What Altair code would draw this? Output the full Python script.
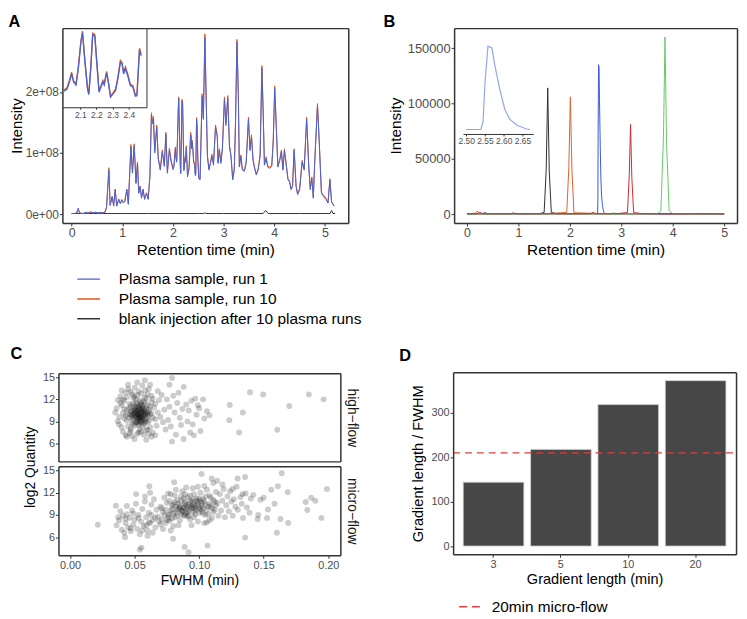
import altair as alt
import pandas as pd

W, H = 739, 611
FONT = "Liberation Sans"
INK = "#333333"
LAB = "#4D4D4D"

# ---------------- Panel A : TIC traces ----------------
a_series = ["Plasma sample, run 1", "Plasma sample, run 10", "blank injection after 10 plasma runs"]
a_colors = ["#4863D4", "#E2571F", "#333333"]
a_time = [
    0.00, 0.05, 0.10, 0.13, 0.16, 0.22, 0.28, 0.33, 0.38, 0.42,
    0.47, 0.52, 0.57, 0.62, 0.66, 0.69, 0.735, 0.76, 0.80, 0.83,
    0.86, 0.89, 0.93, 0.96, 0.99, 1.02, 1.05, 1.09, 1.12, 1.17,
    1.20, 1.235, 1.27, 1.30, 1.325, 1.35, 1.38, 1.41, 1.44, 1.48,
    1.51, 1.545, 1.575, 1.595, 1.615, 1.64, 1.68, 1.71, 1.75, 1.79,
    1.83, 1.86, 1.89, 1.93, 1.965, 2.00, 2.019, 2.033, 2.047, 2.059,
    2.074, 2.088, 2.104, 2.114, 2.129, 2.145, 2.153, 2.165, 2.177, 2.19,
    2.202, 2.216, 2.226, 2.24, 2.248, 2.263, 2.273, 2.287, 2.303, 2.318,
    2.332, 2.348, 2.358, 2.368, 2.379, 2.393, 2.409, 2.425, 2.44, 2.45,
    2.466, 2.476, 2.49, 2.51, 2.535, 2.575, 2.60, 2.63, 2.655, 2.68,
    2.71, 2.74, 2.77, 2.80, 2.84, 2.875, 2.89, 2.915, 2.945, 2.975,
    3.016, 3.045, 3.082, 3.115, 3.145, 3.179, 3.21, 3.235, 3.263, 3.29,
    3.31, 3.34, 3.37, 3.41, 3.445, 3.49, 3.52, 3.55, 3.58, 3.61,
    3.645, 3.68, 3.72, 3.755, 3.78, 3.805, 3.84, 3.87, 3.91, 3.95,
    3.98, 4.008, 4.04, 4.07, 4.11, 4.14, 4.17, 4.20, 4.24, 4.27,
    4.30, 4.33, 4.36, 4.391, 4.43, 4.46, 4.50, 4.55, 4.59, 4.638,
    4.68, 4.71, 4.74, 4.77, 4.80, 4.852, 4.88, 4.93, 4.97, 5.02,
    5.06, 5.097, 5.13, 5.18,
]
# intensities in units of 1e8
a_run1 = [
    0.01, 0.01, 0.02, 0.10, 0.02, 0.01, 0.03, 0.02, 0.04, 0.02,
    0.03, 0.02, 0.03, 0.02, 0.04, 0.12, 0.72, 0.14, 0.29, 0.13,
    0.40, 0.13, 0.24, 0.17, 0.24, 0.18, 0.21, 0.40, 0.16, 1.10,
    0.67, 1.12, 0.50, 0.83, 0.34, 0.45, 0.26, 0.40, 0.24, 0.34,
    0.24, 0.61, 1.62, 1.48, 1.55, 1.00, 1.42, 0.90, 0.72, 1.02,
    0.78, 1.31, 0.67, 1.05, 0.85, 0.73, 0.77, 0.91, 1.07, 0.91,
    0.85, 1.17, 1.69, 1.89, 1.30, 0.77, 0.66, 1.17, 1.85, 1.82,
    1.30, 0.71, 0.79, 0.91, 0.85, 1.09, 0.91, 0.61, 0.68, 0.74,
    0.97, 1.30, 1.27, 1.07, 1.18, 1.04, 0.84, 0.81, 0.63, 0.64,
    1.55, 1.43, 0.90, 0.58, 0.56, 1.93, 1.55, 2.90, 1.90, 0.94,
    0.72, 0.83, 0.95, 0.80, 1.42, 1.26, 0.83, 1.04, 0.83, 1.05,
    1.88, 1.45, 1.90, 1.10, 0.94, 0.56, 0.72, 1.50, 2.82, 1.94,
    0.77, 0.94, 0.72, 0.70, 0.83, 1.55, 1.04, 1.26, 0.88, 0.75,
    0.64, 0.72, 0.94, 2.39, 1.67, 0.80, 0.91, 0.77, 0.75, 0.78,
    1.20, 2.06, 1.40, 0.77, 0.88, 1.02, 0.72, 1.04, 0.77, 0.56,
    0.53, 0.40, 0.45, 1.04, 0.45, 0.32, 0.40, 0.85, 0.72, 1.55,
    0.77, 0.40, 0.59, 0.26, 0.88, 1.77, 1.30, 0.34, 0.29, 0.24,
    0.18, 0.56, 0.20, 0.13,
]
a_run10 = [
    0.01, 0.01, 0.02, 0.06, 0.02, 0.01, 0.02, 0.02, 0.03, 0.02,
    0.03, 0.02, 0.02, 0.02, 0.03, 0.11, 0.76, 0.15, 0.28, 0.14,
    0.41, 0.14, 0.25, 0.18, 0.23, 0.19, 0.22, 0.41, 0.17, 1.14,
    0.70, 1.15, 0.52, 0.85, 0.36, 0.46, 0.28, 0.41, 0.26, 0.35,
    0.25, 0.63, 1.66, 1.52, 1.60, 1.03, 1.46, 0.92, 0.74, 1.05,
    0.80, 1.34, 0.69, 1.08, 0.87, 0.75, 0.80, 0.94, 1.10, 0.93,
    0.88, 1.20, 1.72, 1.92, 1.34, 0.80, 0.69, 1.20, 1.88, 1.85,
    1.33, 0.74, 0.82, 0.94, 0.88, 1.12, 0.94, 0.63, 0.70, 0.77,
    1.00, 1.34, 1.30, 1.10, 1.21, 1.07, 0.87, 0.84, 0.66, 0.66,
    1.58, 1.47, 0.93, 0.60, 0.58, 1.97, 1.58, 2.95, 1.94, 0.97,
    0.74, 0.85, 0.98, 0.82, 1.46, 1.29, 0.85, 1.07, 0.86, 1.08,
    1.92, 1.49, 1.94, 1.13, 0.97, 0.58, 0.74, 1.54, 2.86, 1.98,
    0.79, 0.97, 0.74, 0.72, 0.86, 1.59, 1.07, 1.30, 0.90, 0.77,
    0.66, 0.74, 0.97, 2.43, 1.71, 0.82, 0.94, 0.79, 0.77, 0.80,
    1.24, 2.10, 1.44, 0.79, 0.91, 1.05, 0.74, 1.07, 0.79, 0.58,
    0.55, 0.42, 0.47, 1.07, 0.47, 0.34, 0.42, 0.88, 0.74, 1.59,
    0.79, 0.42, 0.61, 0.28, 0.91, 1.81, 1.33, 0.36, 0.31, 0.26,
    0.19, 0.58, 0.21, 0.14,
]
a_blank_time = [0.00, 0.30, 0.70, 1.00, 1.50, 2.00, 2.50, 2.60, 2.63, 2.66, 3.00,
                3.50, 3.78, 3.83, 3.88, 4.50, 5.00, 5.10, 5.13, 5.16, 5.20]
a_blank = [0.01, 0.01, 0.01, 0.01, 0.01, 0.01, 0.01, 0.01, 0.02, 0.01, 0.01,
           0.01, 0.01, 0.06, 0.01, 0.01, 0.01, 0.01, 0.06, 0.01, 0.01]
a_y_ticks = [0, 1, 2]
a_x_ticks = [0, 1, 2, 3, 4, 5]
a_inset_ticks = [2.1, 2.2, 2.3, 2.4]

# ---------------- Panel B : XICs ----------------
b_names = ["peptide 1", "peptide 2", "peptide 3", "peptide 4", "peptide 5"]
b_colors = ["#303030", "#E0602C", "#3A5AD8", "#66C866", "#CB2B2D"]
b_t1 = [0.0, 0.5, 1.0, 1.4, 1.50, 1.54, 1.57, 1.60, 1.64, 1.75, 2.5, 3.5, 4.5, 5.0]
b_v1 = [200, 300, 250, 300, 1500, 40000, 114000, 38000, 1500, 300, 250, 200, 250, 200]
b_t2 = [0.0, 0.15, 0.2, 0.25, 0.5, 1.0, 1.5, 1.94, 1.98, 2.01, 2.04, 2.08, 2.5, 3.0, 3.5, 4.0, 5.0]
b_v2 = [300, 400, 2600, 400, 300, 250, 300, 1500, 42000, 106000, 40000, 1200, 700, 300, 300, 250, 200]
b_t3 = [0.0, 0.3, 0.35, 0.4, 1.0, 2.0, 2.5, 2.539, 2.5447, 2.55, 2.5579, 2.5684, 2.5763,
        2.5895, 2.6026, 2.6158, 2.6342, 2.6605, 2.67, 2.75, 3.5, 4.5, 5.0]
b_v3 = [300, 300, 1500, 300, 250, 300, 500, 500, 12400, 76000, 135000, 132000, 103400,
        65100, 33200, 17200, 7700, 1300, 800, 400, 300, 250, 200]
b_t4 = [0.0, 1.0, 2.0, 3.0, 3.7, 3.77, 3.82, 3.85, 3.88, 3.93, 4.0, 4.5, 5.0]
b_v4 = [150, 200, 150, 200, 250, 3000, 70000, 160000, 65000, 3000, 400, 200, 150]
b_t5 = [0.0, 0.2, 0.25, 0.3, 0.85, 0.9, 0.95, 1.5, 2.4, 2.45, 2.5, 2.8, 2.85, 2.9,
        3.12, 3.155, 3.18, 3.205, 3.24, 3.4, 4.0, 4.6, 5.0]
b_v5 = [300, 300, 1800, 300, 300, 1200, 300, 300, 300, 1500, 300, 300, 900, 300,
        1500, 35000, 81000, 33000, 1500, 400, 300, 300, 250]
b_y_ticks = [0, 50000, 100000, 150000]
b_inset_ticks = [2.50, 2.55, 2.60, 2.65]

# ---------------- Panel C : FWHM vs quantity ----------------
c_high_flow = [
    (0.050, 10.1), (0.052, 9.6), (0.055, 10.4), (0.057, 9.3), (0.053, 10.9), (0.049, 9.2),
    (0.056, 11.1), (0.058, 10.0), (0.051, 10.6), (0.054, 9.0), (0.047, 10.3), (0.060, 9.7),
    (0.055, 9.8), (0.052, 11.3), (0.059, 10.8), (0.048, 9.8), (0.053, 8.7), (0.057, 10.6),
    (0.050, 11.0), (0.061, 10.3), (0.054, 10.2), (0.046, 9.5), (0.058, 9.1), (0.051, 9.4),
    (0.056, 9.6), (0.049, 10.7), (0.053, 9.9), (0.055, 11.6), (0.060, 11.2), (0.047, 11.1),
    (0.052, 8.9), (0.057, 8.6), (0.050, 8.4), (0.062, 9.9), (0.045, 10.0), (0.054, 11.9),
    (0.058, 11.5), (0.048, 8.8), (0.056, 8.3), (0.051, 12.0), (0.059, 9.4), (0.044, 9.1),
    (0.053, 10.5), (0.055, 9.2), (0.050, 9.7), (0.057, 10.2), (0.046, 10.8), (0.060, 8.9),
    (0.052, 10.0), (0.054, 9.5), (0.049, 11.4), (0.056, 10.9), (0.061, 10.6), (0.048, 10.4),
    (0.058, 9.8), (0.053, 9.3), (0.055, 10.7), (0.051, 8.9), (0.044, 10.6), (0.063, 10.1),
    (0.051, 10.2), (0.053, 10.0), (0.055, 10.1), (0.052, 9.8), (0.054, 10.6), (0.056, 10.3),
    (0.050, 9.9), (0.057, 9.9), (0.053, 9.5), (0.055, 9.6), (0.051, 10.8), (0.058, 10.4),
    (0.049, 10.0), (0.054, 9.7), (0.052, 10.4), (0.056, 9.4), (0.050, 10.5), (0.057, 10.8),
    (0.053, 11.0), (0.055, 8.9), (0.048, 9.5), (0.059, 10.1), (0.052, 9.1), (0.054, 11.2),
    (0.056, 9.0), (0.051, 11.5), (0.058, 8.8), (0.047, 9.9), (0.060, 10.0), (0.053, 8.5),
    (0.055, 11.3), (0.049, 8.6), (0.057, 11.7), (0.046, 11.4), (0.061, 9.1), (0.050, 12.4),
    (0.045, 8.3), (0.062, 11.0), (0.043, 9.8), (0.059, 12.1), (0.048, 12.7), (0.064, 9.5),
    (0.042, 10.7), (0.060, 7.9), (0.047, 7.7), (0.055, 7.6), (0.063, 12.5), (0.041, 12.0),
    (0.052, 7.3), (0.058, 13.2),
    (0.038, 9.6), (0.036, 10.8), (0.040, 8.2), (0.042, 11.8), (0.039, 12.4), (0.041, 7.6),
    (0.037, 9.0), (0.043, 12.9), (0.035, 10.2), (0.040, 11.2), (0.043, 7.1), (0.045, 13.4),
    (0.038, 8.6), (0.041, 10.1), (0.044, 12.3), (0.046, 7.4), (0.042, 9.4), (0.047, 13.0),
    (0.048, 7.0), (0.039, 11.5), (0.050, 13.6), (0.052, 12.6), (0.049, 12.2), (0.047, 8.0),
    (0.053, 7.5), (0.055, 12.8), (0.056, 13.9), (0.058, 12.3), (0.054, 7.9), (0.057, 7.2),
    (0.059, 7.8), (0.060, 12.7), (0.062, 8.2), (0.063, 11.6), (0.061, 13.4), (0.064, 7.5),
    (0.065, 10.9), (0.066, 9.3), (0.064, 12.1), (0.067, 8.4), (0.066, 11.4), (0.068, 10.2),
    (0.063, 6.9), (0.052, 14.3), (0.045, 14.0), (0.058, 14.6), (0.070, 9.6), (0.069, 11.9),
    (0.072, 8.9), (0.071, 12.6), (0.050, 6.6), (0.044, 6.9), (0.059, 6.5), (0.040, 13.2),
    (0.053, 13.1), (0.066, 7.1), (0.062, 14.0), (0.037, 11.9), (0.068, 13.1), (0.061, 7.3),
    (0.073, 10.6), (0.075, 12.0), (0.074, 7.9), (0.077, 11.0), (0.076, 9.2), (0.079, 14.9),
    (0.077, 14.0), (0.080, 12.5), (0.078, 8.3), (0.081, 10.2), (0.082, 7.2), (0.083, 11.5),
    (0.085, 9.5), (0.084, 12.9), (0.086, 8.5), (0.088, 13.7), (0.087, 10.7), (0.088, 6.6),
    (0.079, 6.25), (0.090, 11.3), (0.091, 9.0), (0.093, 7.5), (0.092, 10.5), (0.094, 11.8),
    (0.096, 7.1), (0.097, 12.1), (0.098, 9.9), (0.100, 10.8), (0.101, 7.7), (0.103, 12.0),
    (0.104, 9.4), (0.106, 10.4), (0.108, 9.85), (0.095, 8.6), (0.099, 11.2),
    (0.1237, 11.23), (0.1338, 10.2), (0.1234, 9.17), (0.131, 7.5), (0.1394, 12.98),
    (0.1496, 12.67), (0.1605, 7.87), (0.1698, 11.1), (0.185, 12.67), (0.1964, 12.0),
]
c_micro_flow = [
    (0.036, 7.6), (0.038, 8.3), (0.040, 7.0), (0.041, 8.9), (0.039, 9.5), (0.042, 6.6),
    (0.043, 7.9), (0.044, 9.1), (0.045, 7.3), (0.046, 8.6), (0.044, 10.2), (0.047, 6.8),
    (0.048, 9.6), (0.049, 7.7), (0.050, 8.4), (0.051, 10.5), (0.052, 7.1), (0.053, 9.0),
    (0.054, 6.4), (0.055, 8.1), (0.056, 9.8), (0.057, 7.5), (0.058, 10.8), (0.059, 8.7),
    (0.060, 6.9), (0.058, 11.5), (0.061, 9.3), (0.062, 7.9), (0.063, 10.4), (0.064, 8.3),
    (0.060, 6.2), (0.065, 11.1), (0.066, 7.3), (0.067, 9.7), (0.068, 8.8), (0.047, 7.2),
    (0.053, 8.6), (0.056, 6.9), (0.049, 9.2), (0.043, 8.5), (0.062, 12.0), (0.064, 6.6),
    (0.070, 10.1), (0.071, 8.4), (0.072, 9.4), (0.073, 11.3), (0.074, 7.9), (0.075, 10.6),
    (0.076, 9.0), (0.077, 8.2), (0.078, 11.8), (0.079, 9.8), (0.080, 10.4), (0.081, 8.7),
    (0.082, 9.3), (0.083, 11.0), (0.084, 7.6), (0.085, 10.0), (0.086, 9.6), (0.087, 12.2),
    (0.088, 8.9), (0.089, 10.7), (0.090, 9.2), (0.091, 11.4), (0.092, 10.1), (0.093, 8.4),
    (0.094, 9.9), (0.095, 12.6), (0.096, 10.5), (0.097, 9.1), (0.098, 11.2), (0.099, 8.1),
    (0.100, 10.0), (0.101, 12.0), (0.102, 9.5), (0.103, 11.1), (0.104, 7.9), (0.105, 10.4),
    (0.106, 12.4), (0.107, 9.1), (0.108, 11.6), (0.109, 10.2), (0.110, 8.6), (0.111, 11.0),
    (0.112, 9.7), (0.113, 12.1), (0.114, 10.6), (0.115, 8.9),
    (0.074, 9.7), (0.077, 10.9), (0.079, 8.5), (0.081, 11.6), (0.083, 9.7), (0.085, 8.3),
    (0.086, 10.9), (0.088, 9.9), (0.089, 11.8), (0.090, 10.3), (0.091, 8.8), (0.092, 9.6),
    (0.094, 10.8), (0.095, 9.4), (0.097, 10.2), (0.098, 9.8), (0.099, 10.7), (0.100, 9.3),
    (0.102, 10.6), (0.103, 9.9), (0.105, 11.5), (0.107, 10.1), (0.108, 8.3), (0.110, 9.9),
    (0.112, 10.8), (0.084, 10.5), (0.087, 9.4), (0.093, 11.6), (0.096, 8.7), (0.101, 10.9),
    (0.076, 11.9), (0.080, 7.5), (0.104, 12.9), (0.099, 12.8), (0.090, 12.7), (0.082, 12.4),
    (0.094, 7.6), (0.106, 8.0), (0.072, 7.1), (0.078, 6.9),
    (0.085, 10.2), (0.088, 10.0), (0.090, 9.8), (0.092, 10.4), (0.094, 10.1), (0.096, 9.9),
    (0.087, 9.6), (0.089, 10.5), (0.091, 9.4), (0.093, 10.9), (0.095, 10.3), (0.097, 9.6),
    (0.099, 10.4), (0.101, 9.8), (0.098, 10.9), (0.086, 9.1), (0.084, 9.8), (0.082, 10.1),
    (0.080, 9.2), (0.078, 9.6), (0.083, 8.9), (0.081, 10.7), (0.079, 10.3), (0.100, 11.2),
    (0.102, 10.2), (0.104, 10.8), (0.106, 9.7), (0.103, 9.2), (0.108, 10.5), (0.105, 9.0),
    (0.077, 9.1), (0.076, 8.6), (0.073, 9.0), (0.075, 8.3), (0.071, 9.9), (0.089, 9.0),
    (0.092, 8.9), (0.095, 11.1), (0.088, 11.2), (0.086, 11.5), (0.096, 11.8), (0.109, 11.3),
    (0.111, 9.4), (0.113, 10.3), (0.069, 8.1), (0.066, 8.6), (0.063, 9.0), (0.061, 8.0),
    (0.059, 7.6), (0.070, 7.7),
    (0.116, 11.8), (0.117, 9.6), (0.118, 10.9), (0.119, 12.5), (0.120, 8.7), (0.121, 10.3),
    (0.122, 11.5), (0.123, 9.5), (0.124, 12.2), (0.125, 10.8), (0.126, 8.9), (0.127, 11.1),
    (0.128, 10.1), (0.129, 12.8), (0.130, 9.7), (0.132, 11.4), (0.133, 10.5), (0.134, 8.6),
    (0.136, 11.9), (0.137, 10.0), (0.139, 9.3), (0.140, 11.2), (0.118, 13.1), (0.114, 13.6),
    (0.111, 13.3),
    (0.0215, 7.69), (0.0355, 10.25), (0.0373, 8.68), (0.054, 4.33), (0.0553, 4.6),
    (0.0426, 6.0), (0.0512, 11.8), (0.0614, 12.85), (0.0806, 13.4), (0.1019, 14.5),
    (0.1097, 13.9), (0.1356, 14.1), (0.164, 14.6), (0.161, 12.85), (0.1686, 12.05),
    (0.1559, 12.4), (0.199, 12.5), (0.1868, 11.3), (0.19, 10.9), (0.1825, 10.75),
    (0.1838, 9.67), (0.1947, 8.6), (0.169, 7.93), (0.1602, 6.6), (0.163, 8.46),
    (0.1526, 8.6), (0.1533, 9.72), (0.1584, 10.5), (0.1475, 11.05), (0.15, 11.3),
    (0.142, 11.7), (0.1458, 9.0), (0.1453, 8.46), (0.1356, 5.95), (0.1065, 4.87),
    (0.0887, 4.7), (0.0918, 3.98), (0.0798, 5.8), (0.1298, 13.9), (0.1259, 12.5),
    (0.1336, 11.8),
]
c_x_ticks = [0.0, 0.05, 0.10, 0.15, 0.20]
c_y_ticks = [6, 9, 12, 15]

# ---------------- Panel D : gradient length / FWHM ----------------
d_gradient = ["3", "5", "10", "20"]
d_ratio = [144, 218, 319, 373]
d_reference = [210]
d_reference_label = ["20min micro-flow"]
d_y_ticks = [0, 100, 200, 300]

# ---------------- data frames ----------------
a_df = pd.concat([
    pd.DataFrame({"time": a_blank_time, "intensity": a_blank, "series": a_series[2]}),
    pd.DataFrame({"time": a_time, "intensity": a_run10, "series": a_series[1]}),
    pd.DataFrame({"time": a_time, "intensity": a_run1, "series": a_series[0]}),
], ignore_index=True)
a_inset_df = a_df[(a_df["series"] != a_series[2]) & (a_df["time"] >= 1.99) & (a_df["time"] <= 2.48)]

b_df = pd.concat([
    pd.DataFrame({"time": t, "intensity": v, "series": n})
    for t, v, n in [(b_t1, b_v1, b_names[0]), (b_t2, b_v2, b_names[1]), (b_t3, b_v3, b_names[2]),
                    (b_t4, b_v4, b_names[3]), (b_t5, b_v5, b_names[4])]
], ignore_index=True)
b_inset_df = b_df[(b_df["series"] == b_names[2]) & (b_df["time"] >= 2.50) & (b_df["time"] <= 2.67)]

hf_df = pd.DataFrame(c_high_flow, columns=["fwhm", "quantity"])
mf_df = pd.DataFrame(c_micro_flow, columns=["fwhm", "quantity"])
d_df = pd.DataFrame({"gradient": d_gradient, "ratio": d_ratio})
d_ref_df = pd.DataFrame({"ref": d_reference, "label": d_reference_label})
dummy = pd.DataFrame({"x": [0.0], "y": [0.0]})


def axis(orient, offset, **kw):
    base = dict(orient=orient, offset=offset, grid=False, domainColor=INK, domainWidth=1.5,
                tickColor=INK, tickSize=3, tickWidth=1, labelColor=LAB, labelFont=FONT,
                labelFlush=False, labelOverlap=False, labelPadding=1, titleColor="#000000",
                titleFont=FONT, titleFontWeight="normal", titleBaseline="alphabetic", zindex=1)
    base.update(kw)
    return alt.Axis(**base)


def frame_axis(orient, offset, **kw):
    return axis(orient, offset, labels=False, ticks=False, **kw)


def letter(text, x, y):
    return dict(title=text, titleFontSize=16.5, titleFontWeight="bold", titleAlign="left",
                titleX=x, titleY=y, titleColor="#000000")


def lin(domain, rng):
    return alt.Scale(domain=domain, range=rng, nice=False, zero=False)


# ---------------- Panel A layers ----------------
xa = lin([-0.182, 5.46], [55, 344])
ya = lin([-0.145, 3.045], [214, 17])
a_main = alt.Chart(a_df).mark_line(strokeWidth=1).encode(
    x=alt.X("time:Q", scale=xa, axis=axis("bottom", 214 - H, values=a_x_ticks, labelFontSize=12.5,
                                             labelPadding=0.5, title="Retention time (min)",
                                             titleFontSize=15.5, titleY=31.5)),
    y=alt.Y("intensity:Q", scale=ya, axis=axis(
        "left", -55, values=a_y_ticks, labelFontSize=12,
        labelExpr="datum.value == 0 ? '0e+00' : datum.value + 'e+08'",
        title="Intensity", titleFontSize=15, titleAngle=270, titleX=-41.5, titleY=115.5)),
    color=alt.Color("series:N", scale=alt.Scale(domain=a_series, range=a_colors),
                    legend=alt.Legend(orient="none", legendX=69, legendY=261, title=None,
                                      direction="vertical", symbolType="stroke", symbolSize=529,
                                      symbolStrokeWidth=1.5, clipHeight=19.5, rowPadding=0,
                                      labelFontSize=15.6, labelFont=FONT, labelColor="#000000",
                                      labelOffset=18, labelLimit=400, padding=0)),
)
a_inset = alt.Chart(a_inset_df).mark_line(strokeWidth=1.3).encode(
    x=alt.X("time:Q", scale=lin([1.990, 2.509], [55, 140]),
            axis=axis("bottom", 97 - H, values=a_inset_ticks, format=".1f", labelFontSize=8.5,
                      tickSize=2, labelPadding=1, domainWidth=1, title=None)),
    y=alt.Y("intensity:Q", scale=lin([0.41, 1.98], [97, 17]),
            axis=frame_axis("right", 140 - W, domainWidth=1, title=None)),
    color=alt.Color("series:N", scale=alt.Scale(domain=a_series, range=a_colors), legend=None),
)
a_frame = alt.Chart(dummy).mark_point(opacity=0).encode(
    x=alt.X("x:Q", scale=xa, axis=frame_axis("top", -17, **letter("A", 0, -2))),
    y=alt.Y("y:Q", scale=ya, axis=frame_axis("right", 344 - W, title=None)),
)

# ---------------- Panel B layers ----------------
xb = lin([-0.25, 5.25], [451, 737])
yb = lin([-8000, 168000], [214, 17])
b_main = alt.Chart(b_df).mark_line(strokeWidth=1).encode(
    x=alt.X("time:Q", scale=xb, axis=axis("bottom", 214 - H, values=a_x_ticks, labelFontSize=12.5,
                                             labelPadding=0.5, title="Retention time (min)",
                                             titleFontSize=15.5, titleY=31.5)),
    y=alt.Y("intensity:Q", scale=yb, axis=axis(
        "left", -451, values=b_y_ticks, format="d", labelFontSize=13,
        title="Intensity", titleFontSize=15.5, titleAngle=270, titleX=-54, titleY=115.5)),
    color=alt.Color("series:N", scale=alt.Scale(domain=b_names, range=b_colors), legend=None),
)
b_inset = alt.Chart(b_inset_df).mark_line(strokeWidth=1.2, color="#93A5EA").encode(
    x=alt.X("time:Q", scale=lin([2.4915, 2.6785], [460, 531]),
            axis=axis("bottom", 124 - H, values=b_inset_ticks, format=".2f", labelFontSize=8.5,
                      tickSize=2, labelPadding=0.5, domainWidth=1, title=None)),
    y=alt.Y("intensity:Q", scale=lin([-6750, 141750], [124, 31]), axis=None),
)
b_frame = alt.Chart(dummy).mark_point(opacity=0).encode(
    x=alt.X("x:Q", scale=xb, axis=frame_axis("top", -17, **letter("B", 379, -2))),
    y=alt.Y("y:Q", scale=yb, axis=frame_axis("right", 737 - W, title=None)),
)

# ---------------- Panel C layers ----------------
xc = lin([-0.009, 0.2094], [51, 336])
yc_hf = lin([3.56, 15.54], [455, 366])
yc_mf = lin([3.56, 15.54], [550, 460])
c_hf = alt.Chart(hf_df).mark_circle(size=36, opacity=0.2, color="#000000").encode(
    x=alt.X("fwhm:Q", scale=xc, axis=frame_axis("bottom", 455 - H, title=None)),
    y=alt.Y("quantity:Q", scale=yc_hf, axis=axis("left", -51, values=c_y_ticks, labelFontSize=11,
                                                  title=None)),
)
c_hf_frame = alt.Chart(dummy).mark_point(opacity=0).encode(
    x=alt.X("x:Q", scale=xc, axis=frame_axis("top", -366, **letter("C", 2, -15))),
    y=alt.Y("y:Q", scale=yc_hf, axis=frame_axis(
        "right", 336 - W, title="high\u2212flow", titleFontSize=14, titleAngle=90,
        titleX=7, titleY=410.5, titleColor="#1A1A1A")),
)
c_mf = alt.Chart(mf_df).mark_circle(size=36, opacity=0.2, color="#000000").encode(
    x=alt.X("fwhm:Q", scale=xc, axis=axis("bottom", 550 - H, values=c_x_ticks, format=".2f",
                                           labelFontSize=11, title="FWHM (min)", titleFontSize=14,
                                           titleY=29)),
    y=alt.Y("quantity:Q", scale=yc_mf, axis=axis(
        "left", -51, values=c_y_ticks, labelFontSize=11, title="log2 Quantity", titleFontSize=14,
        titleAngle=270, titleX=-24, titleY=460.5)),
)
c_mf_frame = alt.Chart(dummy).mark_point(opacity=0).encode(
    x=alt.X("x:Q", scale=xc, axis=frame_axis("top", -460, title=None)),
    y=alt.Y("y:Q", scale=yc_mf, axis=frame_axis(
        "right", 336 - W, title="micro\u2212flow", titleFontSize=14, titleAngle=90,
        titleX=7, titleY=505, titleColor="#1A1A1A")),
)

# ---------------- Panel D layers ----------------
yd = lin([-18.65, 391.65], [549, 365])
d_bars = alt.Chart(d_df).mark_bar(color="#474747", stroke="#D0D0D0", strokeWidth=0.8).encode(
    x=alt.X("gradient:N", sort=d_gradient,
            scale=alt.Scale(domain=d_gradient, range=[450, 736], paddingInner=0.1, paddingOuter=0.15),
            axis=axis("bottom", 549 - H, labelAngle=0, labelFontSize=11,
                      title="Gradient length (min)", titleFontSize=14.7, titleY=29)),
    y=alt.Y("ratio:Q", scale=yd, axis=axis(
        "left", -450, values=d_y_ticks, labelFontSize=11, title="Gradient length / FWHM",
        titleFontSize=14.7, titleAngle=270, titleX=-30.6, titleY=457)),
    y2=alt.datum(0),
)
d_rule = alt.Chart(d_ref_df).mark_rule(strokeDash=[7, 5], strokeWidth=1.3).encode(
    x=alt.XDatum(0, type="quantitative", scale=lin([0, 1], [450, 736]),
                 axis=frame_axis("top", -365, **letter("D", 395, -12.3))),
    x2=alt.X2Datum(1),
    y=alt.Y("ref:Q", scale=yd, axis=frame_axis("right", 736 - W, title=None)),
    color=alt.Color("label:N", scale=alt.Scale(domain=d_reference_label, range=["#DC3F3F"]),
                    legend=alt.Legend(orient="none", legendX=455, legendY=592, title=None,
                                      symbolType="stroke", symbolSize=529, symbolDash=[8, 5],
                                      symbolStrokeWidth=1.5, clipHeight=20, labelFontSize=15.5,
                                      labelFont=FONT, labelColor="#000000", labelOffset=9,
                                      labelLimit=300, padding=0)),
)

chart = alt.layer(
    a_main, a_inset, a_frame, b_main, b_inset, b_frame,
    c_hf, c_hf_frame, c_mf, c_mf_frame, d_bars, d_rule,
).resolve_scale(
    x="independent", y="independent", color="independent"
).resolve_axis(
    x="independent", y="independent"
).resolve_legend(
    color="independent"
).properties(
    width=W, height=H, padding=0, autosize=alt.AutoSizeParams(type="none")
).configure(font=FONT).configure_view(stroke=None)

chart.save("out.html", embed_options={"renderer": "svg", "actions": False})
